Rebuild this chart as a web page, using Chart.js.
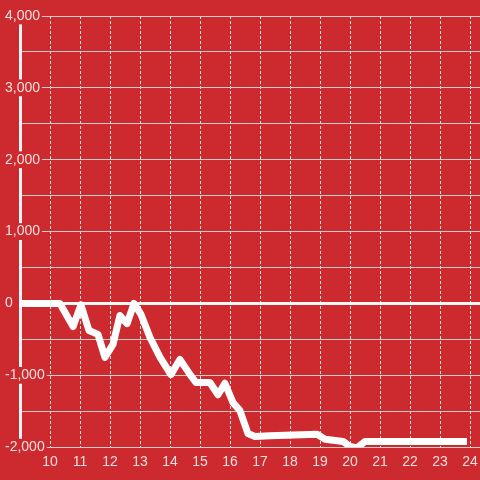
<!DOCTYPE html>
<html>
<head>
<meta charset="utf-8">
<script src="https://cdn.jsdelivr.net/npm/chart.js@4/dist/chart.umd.min.js"></script>
<style>
  html, body { margin: 0; padding: 0; background: #cc2a2f; }
  #wrap { width: 480px; height: 480px; }
</style>
</head>
<body>
<div id="wrap"><canvas id="c" width="480" height="480"></canvas></div>
<script>
// Hours (x) and values (y)
const hours  = [9.0, 10.33, 10.77, 11.03, 11.3, 11.6, 11.83, 12.1, 12.33, 12.57, 12.8, 13.03, 13.33, 13.67, 14.03, 14.33, 14.67, 14.87, 15.33, 15.6, 15.83, 16.1, 16.33, 16.6, 16.83, 17.33, 18.9, 19.17, 19.77, 20.0, 20.23, 20.5, 23.9];
const values = [0, 0, -320, -20, -376, -430, -750, -570, -167, -280, 0, -150, -470, -750, -990, -780, -990, -1100, -1100, -1270, -1110, -1380, -1490, -1810, -1850, -1840, -1820, -1890, -1920, -1990, -2010, -1920, -1920];

const xTicks = [10, 11, 12, 13, 14, 15, 16, 17, 18, 19, 20, 21, 22, 23, 24];
const xTickLabels = ['10','11','12','13','14','15','16','17','18','19','20','21','22','23','24'];
const yTicks = [-2000, -1500, -1000, -500, 0, 500, 1000, 1500, 2000, 2500, 3000, 3500, 4000];
const yTickLabels = ['-2,000', '', '-1,000', '', '0', '', '1,000', '', '2,000', '', '3,000', '', '4,000'];

const BG = '#cc2a2f';
const TEXT = '#f4dede';
const FONT = { family: '"Liberation Sans", Arial, sans-serif', size: 14 };

const points = hours.map((h, i) => ({ x: h, y: values[i] }));

new Chart(document.getElementById('c'), {
  type: 'line',
  data: {
    datasets: [{
      data: points,
      borderColor: '#ffffff',
      borderWidth: 7,
      borderJoinStyle: 'round',
      pointRadius: 0,
      tension: 0,
      fill: false
    }]
  },
  options: {
    responsive: false,
    animation: false,
    events: [],
    layout: { padding: { left: 0, right: 0, top: 16, bottom: 2 } },
    plugins: { legend: { display: false }, tooltip: { enabled: false } },
    scales: {
      x: {
        type: 'linear',
        min: 9,
        max: 24.333,
        afterBuildTicks: (scale) => { scale.ticks = xTicks.map(v => ({ value: v })); },
        afterFit: (scale) => { scale.paddingLeft = 0; scale.paddingRight = 0; },
        ticks: {
          autoSkip: false,
          maxRotation: 0,
          padding: 7,
          color: TEXT,
          font: FONT,
          callback: (v, i) => xTickLabels[i]
        },
        grid: { color: '#e2e2e2', lineWidth: 1, drawTicks: false },
        border: { display: false, dash: [3, 2] }
      },
      y: {
        type: 'linear',
        position: 'left',
        min: -2000,
        max: 4000,
        afterBuildTicks: (scale) => { scale.ticks = yTicks.map(v => ({ value: v })); },
        afterFit: (scale) => { scale.width = 20; },
        ticks: {
          autoSkip: false,
          mirror: true,
          crossAlign: 'near',
          padding: -15,
          color: TEXT,
          font: FONT,
          showLabelBackdrop: true,
          backdropColor: (ctx) => (ctx.tick && ctx.tick.value % 1000 === 0) ? BG : 'rgba(0,0,0,0)',
          backdropPadding: { top: 0, bottom: 0, left: 2, right: 2 },
          callback: (v, i) => yTickLabels[i]
        },
        grid: {
          drawTicks: false,
          color: (ctx) => (ctx.tick && ctx.tick.value === 0) ? '#f6f6f6' : '#cdcdcd',
          lineWidth: (ctx) => (ctx.tick && ctx.tick.value === 0) ? 3 : 1
        },
        border: { display: true, color: '#f4f4f4', width: 3 }
      }
    }
  }
});
</script>
</body>
</html>
